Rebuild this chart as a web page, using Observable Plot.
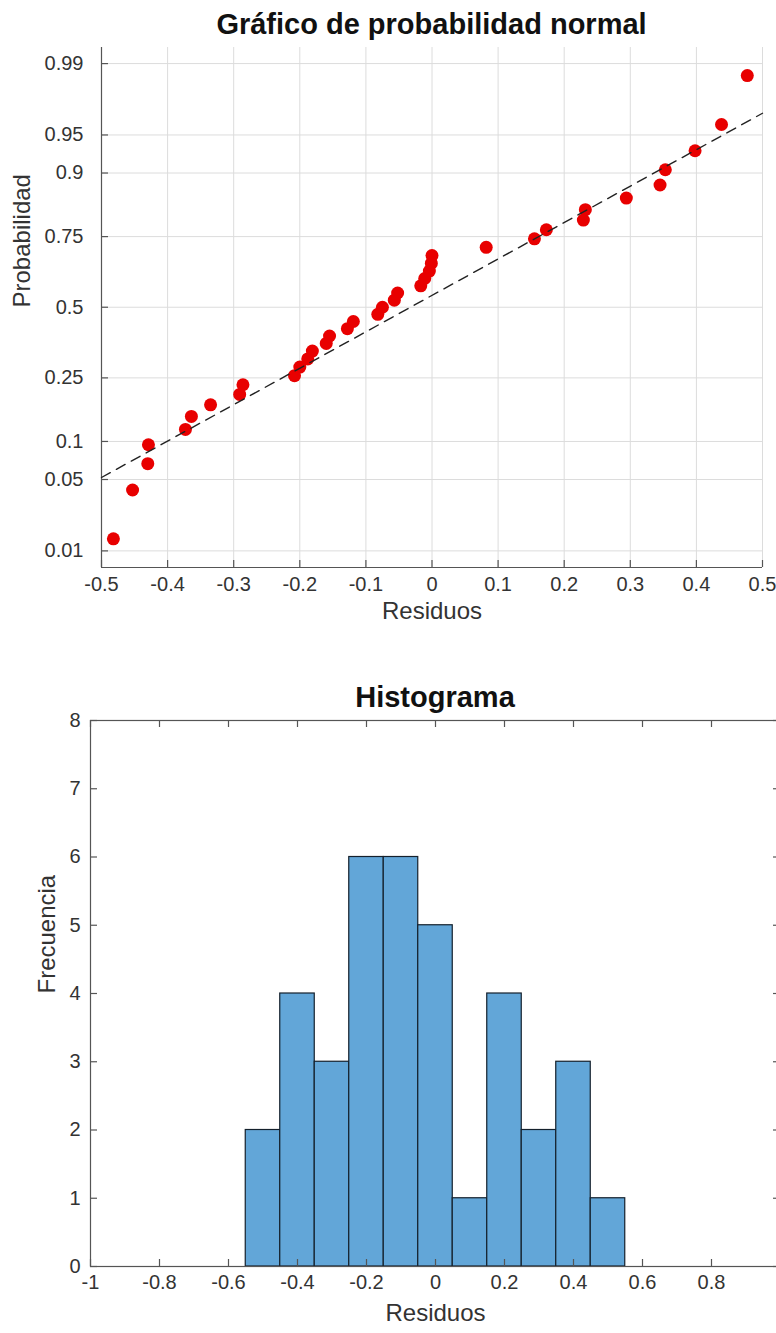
<!DOCTYPE html>
<html>
<head>
<meta charset="utf-8">
<script src="https://cdn.jsdelivr.net/npm/d3@7"></script>
<script src="https://cdn.jsdelivr.net/npm/@observablehq/plot@0.6"></script>
<style>
html, body { margin: 0; padding: 0; background: #fff; overflow: hidden; }
#root { position: relative; width: 776px; height: 1333px; overflow: hidden; background: #fff;
        font-family: "Liberation Sans", Arial, Helvetica, sans-serif; }
.title { position: absolute; left: 0; font-weight: bold; color: #111; font-size: 29px; line-height: 29px;
         white-space: nowrap; text-align: center; z-index: 2; }
.chart { position: absolute; left: 0; z-index: 1; }
</style>
</head>
<body>
<div id="root"></div>
<script>
// ---------- Data ----------
const residuals = [
  -0.482, -0.453, -0.430, -0.429, -0.373, -0.364, -0.335, -0.291, -0.286,
  -0.208, -0.200, -0.188, -0.181, -0.160, -0.155, -0.128, -0.119, -0.082,
  -0.075, -0.057, -0.052, -0.017, -0.011, -0.004, -0.001, 0.000, 0.082,
  0.155, 0.173, 0.229, 0.232, 0.294, 0.345, 0.353, 0.398, 0.438, 0.477
];
const probabilities = [
  0.0135, 0.0405, 0.0676, 0.0946, 0.1216, 0.1486, 0.1757, 0.2027, 0.2297,
  0.2568, 0.2838, 0.3108, 0.3378, 0.3649, 0.3919, 0.4189, 0.4459, 0.4730,
  0.5000, 0.5270, 0.5541, 0.5811, 0.6081, 0.6351, 0.6622, 0.6892, 0.7162,
  0.7432, 0.7703, 0.7973, 0.8243, 0.8514, 0.8784, 0.9054, 0.9324, 0.9595, 0.9865
];
const refLineX = [-0.5, 0.5];
const refLineP = [0.052, 0.968];
const probXTicks = [-0.5, -0.4, -0.3, -0.2, -0.1, 0, 0.1, 0.2, 0.3, 0.4, 0.5];
const probYTicks = [0.01, 0.05, 0.1, 0.25, 0.5, 0.75, 0.9, 0.95, 0.99];

const binLower  = [-0.55, -0.45, -0.35, -0.25, -0.15, -0.05, 0.05, 0.15, 0.25, 0.35, 0.45];
const binUpper  = [-0.45, -0.35, -0.25, -0.15, -0.05, 0.05, 0.15, 0.25, 0.35, 0.45, 0.55];
const binCounts = [2, 4, 3, 6, 6, 5, 1, 4, 2, 3, 1];
const histXTicks = [-1, -0.8, -0.6, -0.4, -0.2, 0, 0.2, 0.4, 0.6, 0.8, 1];
// the reference image is cropped just before the "1" label, so it is not shown
const histXLabels = [-1, -0.8, -0.6, -0.4, -0.2, 0, 0.2, 0.4, 0.6, 0.8];
const histYTicks = [0, 1, 2, 3, 4, 5, 6, 7, 8];

// ---------- Normal quantile (probability paper transform) ----------
function probit(p) {
  const a = [-3.969683028665376e+01, 2.209460984245205e+02, -2.759285104469687e+02,
             1.383577518672690e+02, -3.066479806614716e+01, 2.506628277459239e+00];
  const b = [-5.447609879822406e+01, 1.615858368580409e+02, -1.556989798598866e+02,
             6.680131188771972e+01, -1.328068155288572e+01];
  const c = [-7.784894002430293e-03, -3.223964580411365e-01, -2.400758277161838e+00,
             -2.549732539343734e+00, 4.374664141464968e+00, 2.938163982698783e+00];
  const d = [7.784695709041462e-03, 3.224671290700398e-01, 2.445134137142996e+00,
             3.754408661907416e+00];
  const pl = 0.02425, ph = 1 - pl;
  let q, r;
  if (p < pl) {
    q = Math.sqrt(-2 * Math.log(p));
    return (((((c[0]*q+c[1])*q+c[2])*q+c[3])*q+c[4])*q+c[5]) / ((((d[0]*q+d[1])*q+d[2])*q+d[3])*q+1);
  } else if (p <= ph) {
    q = p - 0.5; r = q * q;
    return (((((a[0]*r+a[1])*r+a[2])*r+a[3])*r+a[4])*r+a[5])*q / (((((b[0]*r+b[1])*r+b[2])*r+b[3])*r+b[4])*r+1);
  } else {
    q = Math.sqrt(-2 * Math.log(1 - p));
    return -(((((c[0]*q+c[1])*q+c[2])*q+c[3])*q+c[4])*q+c[5]) / ((((d[0]*q+d[1])*q+d[2])*q+d[3])*q+1);
  }
}

const FONT = '"Liberation Sans", Arial, Helvetica, sans-serif';
const AXIS = "#555";
const TXT = "#333";
const root = document.getElementById("root");

// ---------- Chart 1: normal probability plot ----------
{
  const W = 776, H = 640, mL = 101, mR = 14, mT = 47, mB = 73;
  const pw = W - mL - mR, ph = H - mT - mB;
  const zDomain = [-2.485, 2.48];
  const pts = residuals.map((v, i) => ({res: v, z: probit(probabilities[i])}));
  const ref = refLineX.map((v, i) => ({res: v, z: probit(refLineP[i])}));

  const svg = Plot.plot({
    width: W, height: H,
    marginLeft: mL, marginRight: mR, marginTop: mT, marginBottom: mB,
    style: {fontFamily: FONT, background: "transparent", overflow: "visible", maxWidth: "none"},
    x: {domain: [-0.5, 0.5], axis: null},
    y: {domain: zDomain, axis: null},
    marks: [
      Plot.ruleX(probXTicks, {x: d => d, stroke: "#dcdcdc", strokeWidth: 1}),
      Plot.ruleY(probYTicks, {y: d => probit(d), stroke: "#dcdcdc", strokeWidth: 1}),
      Plot.ruleX([-0.5], {x: d => d, stroke: AXIS, strokeWidth: 1.2}),
      Plot.ruleY([zDomain[0]], {y: d => d, stroke: AXIS, strokeWidth: 1.2}),
      Plot.ruleX(probXTicks, {x: d => d, insetTop: ph - 7, stroke: AXIS, strokeWidth: 1.2}),
      Plot.ruleY(probYTicks, {y: d => probit(d), insetRight: pw - 7, stroke: AXIS, strokeWidth: 1.2}),
      Plot.dot(pts, {x: "res", y: "z", r: 6.5, fill: "#e80000", stroke: "none"}),
      Plot.line(ref, {x: "res", y: "z", stroke: "#222", strokeWidth: 1.4, strokeDasharray: "10,7"}),
      Plot.text(probXTicks, {x: d => d, frameAnchor: "bottom", dy: 23, text: d => String(d),
                             fontSize: 20, fill: TXT}),
      Plot.text(probYTicks, {y: d => probit(d), frameAnchor: "left", dx: -18, textAnchor: "end",
                             text: d => String(d), fontSize: 20, fill: TXT}),
      Plot.text(["Residuos"], {frameAnchor: "bottom", dy: 51, text: d => d, fontSize: 24, fill: TXT}),
      Plot.text(["Probabilidad"], {frameAnchor: "left", dx: -79, rotate: -90, text: d => d,
                                   fontSize: 24, fill: TXT})
    ]
  });
  svg.classList.add("chart");
  svg.style.top = "0px";
  root.appendChild(svg);

  const t = document.createElement("div");
  t.className = "title";
  t.textContent = "Gráfico de probabilidad normal";
  t.style.top = "10px";
  t.style.width = (2 * (mL + pw / 2)) + "px";
  root.appendChild(t);
}

// ---------- Chart 2: histogram ----------
{
  const top = 660;
  const W = 784, H = 1333 - top, mL = 90, mR = 4, mT = 60, mB = 67;
  const pw = W - mL - mR, ph = H - mT - mB;
  const bins = binCounts.map((c, i) => ({x1: binLower[i], x2: binUpper[i], count: c}));

  const svg = Plot.plot({
    width: W, height: H,
    marginLeft: mL, marginRight: mR, marginTop: mT, marginBottom: mB,
    style: {fontFamily: FONT, background: "transparent", overflow: "visible", maxWidth: "none"},
    x: {domain: [-1, 1], axis: null},
    y: {domain: [0, 8], axis: null},
    marks: [
      Plot.rect(bins, {x1: "x1", x2: "x2", y1: 0, y2: "count", fill: "#62a6d8",
                       stroke: "#14202c", strokeWidth: 1.2}),
      Plot.frame({stroke: AXIS, strokeWidth: 1.2}),
      Plot.ruleX(histXTicks, {x: d => d, insetTop: ph - 7, stroke: AXIS, strokeWidth: 1.2}),
      Plot.ruleX(histXTicks, {x: d => d, insetBottom: ph - 7, stroke: AXIS, strokeWidth: 1.2}),
      Plot.ruleY(histYTicks, {y: d => d, insetRight: pw - 7, stroke: AXIS, strokeWidth: 1.2}),
      Plot.ruleY(histYTicks, {y: d => d, insetLeft: pw - 7, stroke: AXIS, strokeWidth: 1.2}),
      Plot.text(histXLabels, {x: d => d, frameAnchor: "bottom", dy: 22, text: d => String(d),
                              fontSize: 20, fill: TXT}),
      Plot.text(histYTicks, {y: d => d, frameAnchor: "left", dx: -10, textAnchor: "end",
                             text: d => String(d), fontSize: 20, fill: TXT}),
      Plot.text(["Residuos"], {frameAnchor: "bottom", dy: 54, text: d => d, fontSize: 24, fill: TXT}),
      Plot.text(["Frecuencia"], {frameAnchor: "left", dx: -43, rotate: -90, text: d => d,
                                 fontSize: 24, fill: TXT})
    ]
  });
  svg.classList.add("chart");
  svg.style.top = top + "px";
  root.appendChild(svg);

  const t = document.createElement("div");
  t.className = "title";
  t.textContent = "Histograma";
  t.style.top = "683px";
  t.style.width = (2 * (mL + pw / 2)) + "px";
  root.appendChild(t);
}
</script>
</body>
</html>
